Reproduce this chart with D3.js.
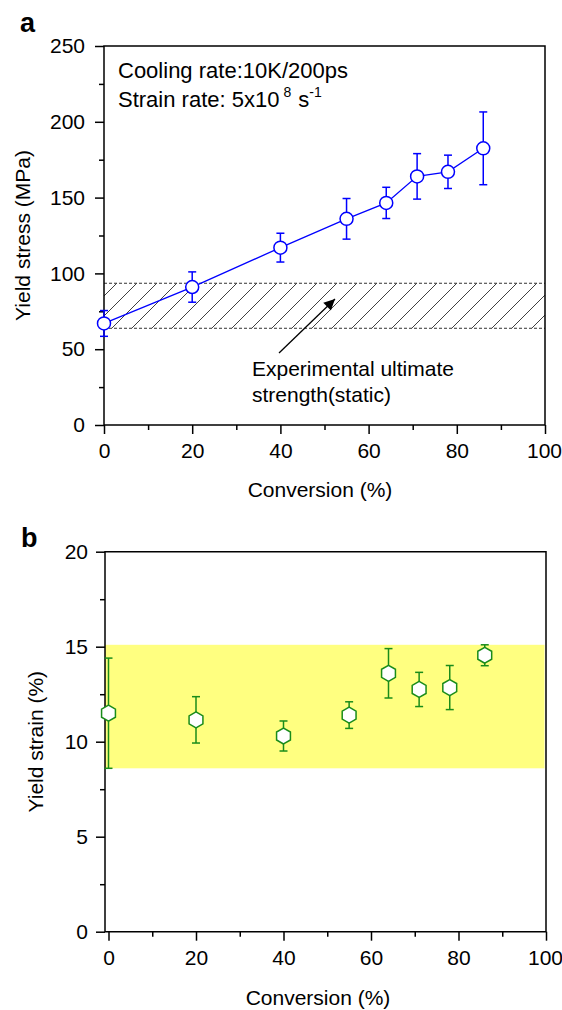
<!DOCTYPE html>
<html>
<head>
<meta charset="utf-8">
<script src="https://cdn.jsdelivr.net/npm/d3@7"></script>
<style>
  body { margin: 0; background: #fff; }
  svg { display: block; font-family: "Liberation Sans", Arial, sans-serif; }
  .axis path, .axis line { stroke: #000; stroke-width: 1.5; }
  .axis text { font-size: 21px; fill: #000; }
</style>
</head>
<body>
<svg id="chart" width="562" height="1010"></svg>
<script>
// panel a: yield stress vs conversion
const convA = [0, 20, 40, 55, 64, 71, 78, 86];
const stressMean = [67, 91, 117, 136, 146.5, 164, 167, 182.5];
const stressErr = [8.5, 10, 9.5, 13.4, 10.3, 15, 11, 24];
const stressBand = [63.8, 93.5];
const stressTicks = [0, 50, 100, 150, 200, 250];
const stressMinor = [25, 75, 125, 175, 225];

// panel b: yield strain vs conversion
const convB = [0, 20, 40, 55, 64, 71, 78, 86];
const strainMean = [11.5, 11.15, 10.3, 11.4, 13.6, 12.75, 12.85, 14.55];
const strainErr = [2.9, 1.22, 0.79, 0.7, 1.3, 0.9, 1.16, 0.55];
const strainBand = [8.6, 15.1];
const strainTicks = [0, 5, 10, 15, 20];
const strainMinor = [2.5, 7.5, 12.5, 17.5];

const convTicks = [0, 20, 40, 60, 80, 100];
const convMinor = [10, 30, 50, 70, 90];

const svg = d3.select('#chart');

// shared defs
const defs = svg.append('defs');
const hatch = defs.append('pattern')
    .attr('id', 'hatch')
    .attr('patternUnits', 'userSpaceOnUse')
    .attr('width', 20)
    .attr('height', 20);
hatch.append('path')
    .attr('d', 'M0,20 L20,0 M-5,5 L5,-5 M15,25 L25,15')
    .attr('stroke', '#404040')
    .attr('stroke-width', 1);

defs.append('marker')
    .attr('id', 'arrow')
    .attr('viewBox', '0 0 10 10')
    .attr('refX', 10).attr('refY', 5)
    .attr('markerWidth', 13).attr('markerHeight', 11)
    .attr('markerUnits', 'userSpaceOnUse')
    .attr('orient', 'auto')
    .append('path')
    .attr('d', 'M0,0 L10,5 L0,10 Z')
    .attr('fill', '#000');

function drawAxes(x, y, yTicks, yMinor, yPad) {
    const [x0, x1] = x.range();
    const [y0, y1] = y.range();

    svg.append('g').attr('class', 'axis')
        .attr('transform', `translate(0,${y0})`)
        .call(d3.axisBottom(x).tickValues(convMinor).tickSize(5).tickSizeOuter(0).tickFormat(''))
        .select('.domain').remove();
    svg.append('g').attr('class', 'axis')
        .attr('transform', `translate(${x0},0)`)
        .call(d3.axisLeft(y).tickValues(yMinor).tickSize(5).tickSizeOuter(0).tickFormat(''))
        .select('.domain').remove();

    const gx = svg.append('g').attr('class', 'axis')
        .attr('transform', `translate(0,${y0})`)
        .call(d3.axisBottom(x).tickValues(convTicks).tickSize(9).tickPadding(9).tickSizeOuter(0));
    gx.select('.domain').remove();
    // keep the last label inside the picture
    gx.selectAll('text').filter(d => d === 100).attr('dx', -1);

    svg.append('g').attr('class', 'axis')
        .attr('transform', `translate(${x0},0)`)
        .call(d3.axisLeft(y).tickValues(yTicks).tickSize(9).tickPadding(yPad).tickSizeOuter(0))
        .select('.domain').remove();

    // frame
    svg.append('path')
        .attr('d', `M${x0},${y1} L${x1},${y1} L${x1},${y0} L${x0},${y0} Z`)
        .attr('fill', 'none')
        .attr('stroke', '#000')
        .attr('stroke-width', 1.5);
}

// ---------- panel a ----------
const xA = d3.scaleLinear().domain([0, 100]).range([104, 545]);
const yA = d3.scaleLinear().domain([0, 250]).range([425, 46]);

svg.append('rect')
    .attr('x', xA(0)).attr('width', xA(100) - xA(0))
    .attr('y', yA(stressBand[1])).attr('height', yA(stressBand[0]) - yA(stressBand[1]))
    .attr('fill', 'url(#hatch)');
stressBand.forEach(v => {
    svg.append('line')
        .attr('x1', xA(0)).attr('x2', xA(100))
        .attr('y1', yA(v)).attr('y2', yA(v))
        .attr('stroke', '#333').attr('stroke-width', 1)
        .attr('stroke-dasharray', '3,2');
});

drawAxes(xA, yA, stressTicks, stressMinor, 10);

const ptsA = convA.map((c, i) => ({ x: c, y: stressMean[i], e: stressErr[i] }));

svg.append('path')
    .datum(ptsA)
    .attr('fill', 'none')
    .attr('stroke', '#0000ff')
    .attr('stroke-width', 1.3)
    .attr('d', d3.line().x(d => xA(d.x)).y(d => yA(d.y)));

const errA = svg.append('g').attr('stroke', '#0000ff').attr('stroke-width', 1.5);
ptsA.forEach(d => {
    const cx = xA(d.x);
    errA.append('line').attr('x1', cx).attr('x2', cx).attr('y1', yA(d.y - d.e)).attr('y2', yA(d.y + d.e));
    errA.append('line').attr('x1', cx - 4).attr('x2', cx + 4).attr('y1', yA(d.y - d.e)).attr('y2', yA(d.y - d.e));
    errA.append('line').attr('x1', cx - 4).attr('x2', cx + 4).attr('y1', yA(d.y + d.e)).attr('y2', yA(d.y + d.e));
});

svg.append('g').selectAll('circle')
    .data(ptsA)
    .enter()
    .append('circle')
    .attr('cx', d => xA(d.x))
    .attr('cy', d => yA(d.y))
    .attr('r', 6.5)
    .attr('fill', '#fff')
    .attr('stroke', '#0000ff')
    .attr('stroke-width', 1.5);

// arrow to the hatched band
svg.append('line')
    .attr('x1', 279).attr('y1', 353)
    .attr('x2', 335).attr('y2', 299)
    .attr('stroke', '#000').attr('stroke-width', 1.3)
    .attr('marker-end', 'url(#arrow)');

svg.append('text').attr('x', 252).attr('y', 376).attr('font-size', 21).text('Experimental ultimate');
svg.append('text').attr('x', 252).attr('y', 402).attr('font-size', 21).text('strength(static)');

svg.append('text').attr('x', 118).attr('y', 78).attr('font-size', 22).text('Cooling rate:10K/200ps');
const sr = svg.append('text').attr('x', 118).attr('y', 107).attr('font-size', 22);
sr.append('tspan').text('Strain rate: 5x10');
sr.append('tspan').attr('dx', 4).attr('dy', -10).attr('font-size', 14).text('8');
sr.append('tspan').attr('dx', 7).attr('dy', 10).text('s');
sr.append('tspan').attr('dy', -10).attr('font-size', 14).text('-1');

svg.append('text')
    .attr('transform', `translate(30,${(yA(0) + yA(250)) / 2}) rotate(-90)`)
    .attr('text-anchor', 'middle').attr('font-size', 21)
    .text('Yield stress (MPa)');
svg.append('text')
    .attr('x', 320).attr('y', 497)
    .attr('text-anchor', 'middle').attr('font-size', 21)
    .text('Conversion (%)');
svg.append('text')
    .attr('x', 20).attr('y', 32)
    .attr('font-size', 27).attr('font-weight', 'bold')
    .text('a');

// ---------- panel b ----------
const xB = d3.scaleLinear().domain([-0.8, 100]).range([105, 546]);
const yB = d3.scaleLinear().domain([0, 20]).range([931.7, 551.7]);

svg.append('rect')
    .attr('x', xB(-0.8)).attr('width', xB(100) - xB(-0.8) - 1.5)
    .attr('y', yB(strainBand[1])).attr('height', yB(strainBand[0]) - yB(strainBand[1]))
    .attr('fill', '#ffff80');

drawAxes(xB, yB, strainTicks, strainMinor, 8);

const ptsB = convB.map((c, i) => ({ x: c, y: strainMean[i], e: strainErr[i] }));

const errB = svg.append('g').attr('stroke', '#1a8c1a').attr('stroke-width', 1.5);
ptsB.forEach(d => {
    const cx = xB(d.x);
    errB.append('line').attr('x1', cx).attr('x2', cx).attr('y1', yB(d.y - d.e)).attr('y2', yB(d.y + d.e));
    errB.append('line').attr('x1', cx - 4).attr('x2', cx + 4).attr('y1', yB(d.y - d.e)).attr('y2', yB(d.y - d.e));
    errB.append('line').attr('x1', cx - 4).attr('x2', cx + 4).attr('y1', yB(d.y + d.e)).attr('y2', yB(d.y + d.e));
});

const hexR = 8;
const hexPts = d3.range(6).map(k => {
    const a = Math.PI / 2 + k * Math.PI / 3;
    return [hexR * Math.cos(a), hexR * Math.sin(a)];
});
svg.append('g').selectAll('polygon')
    .data(ptsB)
    .enter()
    .append('polygon')
    .attr('points', hexPts.map(p => p.join(',')).join(' '))
    .attr('transform', d => `translate(${xB(d.x)},${yB(d.y)})`)
    .attr('fill', '#fff')
    .attr('stroke', '#1a8c1a')
    .attr('stroke-width', 1.5);

svg.append('text')
    .attr('transform', `translate(43,${(yB(0) + yB(20)) / 2}) rotate(-90)`)
    .attr('text-anchor', 'middle').attr('font-size', 21)
    .text('Yield strain (%)');
svg.append('text')
    .attr('x', 318).attr('y', 1005)
    .attr('text-anchor', 'middle').attr('font-size', 21)
    .text('Conversion (%)');
svg.append('text')
    .attr('x', 21).attr('y', 547)
    .attr('font-size', 27).attr('font-weight', 'bold')
    .text('b');
</script>
</body>
</html>
